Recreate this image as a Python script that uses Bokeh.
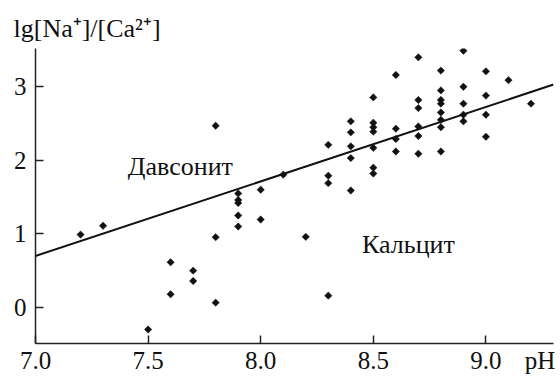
from bokeh.plotting import figure
from bokeh.models import Range1d, FixedTicker, NumeralTickFormatter, ColumnDataSource, LinearAxis
from bokeh.core.properties import value
from bokeh.embed import file_html
from bokeh.resources import INLINE
import numpy as np

# --- data ---
ph = [7.2, 7.3, 7.5, 7.6, 7.6, 7.7, 7.7, 7.8, 7.8, 7.8,
      7.9, 7.9, 7.9, 7.9, 7.9, 8.0, 8.0, 8.1, 8.2,
      8.3, 8.3, 8.3, 8.3,
      8.4, 8.4, 8.4, 8.4, 8.4,
      8.5, 8.5, 8.5, 8.5, 8.5, 8.5, 8.5,
      8.6, 8.6, 8.6, 8.6,
      8.7, 8.7, 8.7, 8.7, 8.7, 8.7,
      8.8, 8.8, 8.8, 8.8, 8.8, 8.8, 8.8, 8.8,
      8.9, 8.9, 8.9, 8.9, 8.9,
      9.0, 9.0, 9.0, 9.0,
      9.1, 9.2]
lg_ratio = [0.99, 1.11, -0.30, 0.615, 0.18, 0.50, 0.36, 2.47, 0.955, 0.065,
            1.55, 1.46, 1.42, 1.25, 1.10, 1.60, 1.195, 1.805, 0.96,
            2.21, 1.79, 1.69, 0.16,
            2.53, 2.38, 2.19, 2.03, 1.59,
            2.855, 2.51, 2.45, 2.39, 2.17, 1.90, 1.82,
            3.16, 2.43, 2.29, 2.12,
            3.40, 2.82, 2.71, 2.46, 2.33, 2.09,
            3.22, 2.95, 2.82, 2.77, 2.65, 2.55, 2.45, 2.12,
            3.49, 3.00, 2.77, 2.62, 2.53,
            3.21, 2.88, 2.62, 2.32,
            3.09, 2.77]
boundary_x = [7.0, 9.3]
boundary_y = [0.70, 3.03]
x_ticks = [7.0, 7.5, 8.0, 8.5, 9.0]
y_ticks = [0, 1, 2, 3]
title_text = "lg[Na\u207a]/[Ca\u00b2\u207a]"
x_label = "pH"
x_label_pos = 9.24
region_labels = ["Давсонит", "Кальцит"]
region_x = [7.41, 8.45]
region_y = [1.91, 0.86]

FONT = "'Liberation Serif'"

p = figure(width=560, height=376, output_backend="svg", toolbar_location=None,
           x_range=Range1d(7.0, 9.30), y_range=Range1d(-0.49, 3.52),
           min_border_left=35, min_border_right=7, min_border_top=48,
           min_border_bottom=33)
p.outline_line_color = None
p.xgrid.visible = False
p.ygrid.visible = False
p.background_fill_color = "white"
p.border_fill_color = "white"

for ax in (p.xaxis[0], p.yaxis[0]):
    ax.axis_line_color = "#222222"
    ax.axis_line_width = 1.5
    ax.major_tick_line_color = "#222222"
    ax.major_tick_line_width = 1.5
    ax.major_tick_in = 8
    ax.major_tick_out = 0
    ax.minor_tick_line_color = None
    ax.major_label_text_font = FONT
    ax.major_label_text_font_style = "normal"
    ax.major_label_text_font_size = "25px"
    ax.major_label_text_color = "#111111"

# main x axis: line and inward ticks only
p.xaxis[0].ticker = FixedTicker(ticks=x_ticks)
p.xaxis[0].major_label_text_font_size = "0px"
p.xaxis[0].major_label_standoff = 0

# label-only x axis: tick values plus the "pH" name at the right end
lab_ax = LinearAxis(ticker=FixedTicker(ticks=x_ticks + [x_label_pos]),
                    formatter=NumeralTickFormatter(format="0.0"),
                    major_label_overrides={x_label_pos: x_label},
                    axis_line_color=None, major_tick_line_color=None,
                    minor_tick_line_color=None, major_tick_in=0, major_tick_out=0,
                    major_label_standoff=3, major_label_text_font=FONT,
                    major_label_text_font_style="normal",
                    major_label_text_font_size="25px",
                    major_label_text_color="#111111")
p.add_layout(lab_ax, "below")

p.yaxis[0].ticker = FixedTicker(ticks=y_ticks)
p.yaxis[0].major_label_standoff = 9

p.title.text = title_text
p.title.align = "left"
p.title.offset = -22
p.title.standoff = 11
p.title.text_font = FONT
p.title.text_font_size = "26px"
p.title.text_font_style = "normal"
p.title.text_color = "#111111"

p.line(boundary_x, boundary_y, line_color="#111111", line_width=2)
p.scatter(ph, lg_ratio, marker="square", angle=np.pi / 4, size=5.2,
          fill_color="#111111", line_color="#111111", line_width=0.5)

lbl = ColumnDataSource(dict(x=region_x, y=region_y, text=region_labels))
p.text(x="x", y="y", text="text", source=lbl, text_font=value(FONT),
       text_font_style="normal", text_font_size="26px", text_color="#111111",
       text_baseline="alphabetic", text_align="left")

open("out.html", "w").write(file_html(p, INLINE))
